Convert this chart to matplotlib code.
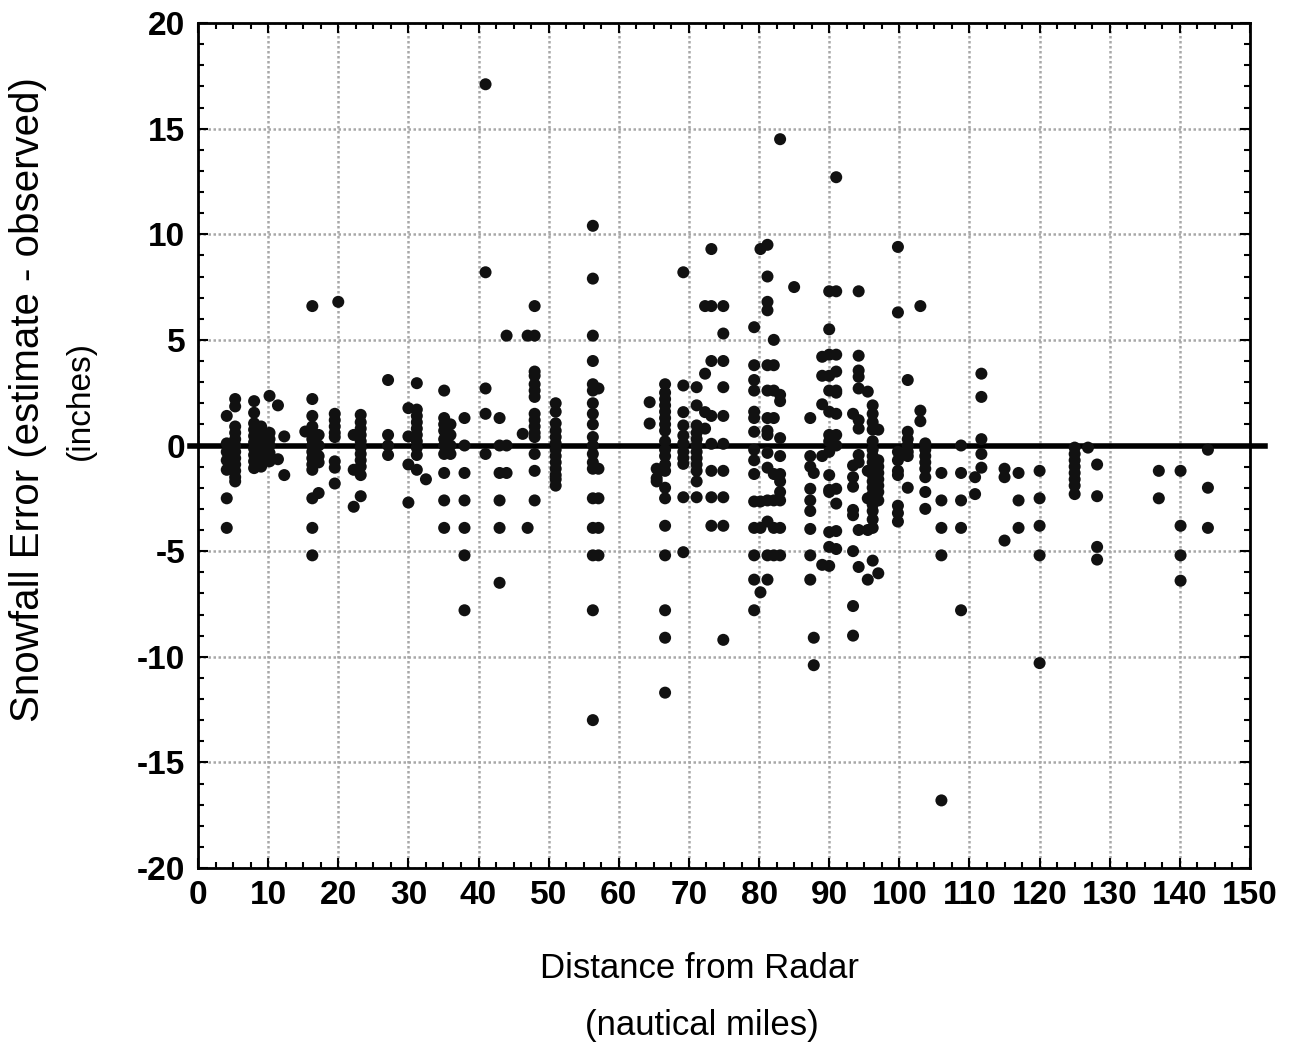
import matplotlib
matplotlib.use("Agg")
import matplotlib.pyplot as plt
from matplotlib.ticker import MultipleLocator

plt.rcParams['font.family'] = ['Liberation Sans', 'DejaVu Sans']
plt.rcParams['axes.unicode_minus'] = False

# ---- data: (distance column, list of snowfall errors) ----
col_dist = [4.1, 5.3, 8.0, 9.0, 10.2, 11.4, 12.3, 15.3, 16.3, 17.2, 19.5, 20.0,
            22.2, 23.2, 27.1, 30.0, 31.2, 32.5, 35.1, 36.0, 38.0, 41.0, 43.0,
            44.0, 46.3, 47.0, 48.0, 51.0, 56.3, 57.1, 64.4, 65.4, 66.6, 69.2,
            71.1, 72.3, 73.2, 74.9, 79.3, 80.2, 81.2, 82.1, 83.0, 85.0, 87.3,
            87.8, 89.0, 90.0, 91.0, 93.4, 94.2, 95.5, 96.2, 97.0, 99.8, 101.2,
            103.0, 103.7, 106.0, 108.8, 110.8, 111.7, 115.0, 117.0, 120.0,
            125.0, 126.9, 128.2, 137.0, 140.1, 144.0]

col_err = [
    [1.4, 0.1, -0.3, -0.7, -1.15, -2.5, -3.9],
    [2.2, 1.85, 0.9, 0.6, 0.3, 0.0, -0.3, -0.6, -0.9, -1.2, -1.5, -1.7],
    [2.1, 1.55, 1.05, 0.75, 0.45, 0.15, -0.15, -0.45, -0.75, -1.07],
    [0.9, 0.5, 0.1, -0.3, -0.7, -1.0],
    [2.35, 0.6, 0.3, 0.0, -0.35, -0.75],
    [1.9, -0.65],
    [0.43, -1.4],
    [0.66],
    [6.6, 2.2, 1.4, 0.9, 0.6, 0.3, 0.0, -0.3, -0.6, -0.9, -1.15, -2.5, -3.9, -5.2],
    [0.5, 0.0, -0.5, -0.8, -2.25],
    [1.5, 1.2, 0.9, 0.6, 0.4, -0.75, -1.05, -1.8],
    [6.8],
    [0.5, -1.15, -2.9],
    [1.45, 1.1, 0.8, 0.5, 0.2, -0.1, -0.4, -0.7, -1.0, -1.4, -2.4],
    [3.1, 0.5, 0.0, -0.45],
    [1.77, 0.43, -0.9, -2.7],
    [2.95, 1.7, 1.4, 1.1, 0.8, 0.5, 0.2, -0.1, -0.45, -1.15],
    [-1.6],
    [2.6, 1.3, 1.0, 0.7, 0.3, 0.0, -0.4, -1.3, -2.6, -3.9],
    [1.0, 0.5, 0.0, -0.4],
    [1.3, 0.0, -1.3, -2.6, -3.9, -5.2, -7.8],
    [17.1, 8.2, 2.7, 1.5, -0.4],
    [1.3, 0.0, -1.3, -2.6, -3.9, -6.5],
    [5.2, 0.0, -1.3],
    [0.55],
    [5.2, -3.9],
    [6.6, 5.2, 3.5, 3.3, 2.9, 2.6, 2.3, 1.5, 1.2, 0.9, 0.6, 0.4, -0.4, -1.2, -2.6],
    [2.0, 1.6, 1.05, 0.7, 0.4, 0.1, -0.2, -0.5, -0.8, -1.1, -1.4, -1.6, -1.9],
    [10.4, 7.9, 5.2, 4.0, 2.9, 2.6, 2.0, 1.5, 1.0, 0.4, 0.0, -0.4, -0.8, -1.1,
     -2.5, -3.9, -5.2, -7.8, -13.0],
    [2.7, -1.1, -2.5, -3.9, -5.2],
    [2.05, 1.04],
    [-1.1, -1.55, -1.7],
    [2.9, 2.5, 2.2, 1.9, 1.6, 1.3, 1.0, 0.7, 0.2, -0.2, -0.5, -0.9, -1.2, -2.0,
     -2.5, -3.8, -5.2, -7.8, -9.1, -11.7],
    [8.2, 2.84, 1.58, 0.95, 0.47, 0.1, -0.3, -0.6, -0.87, -2.45, -5.05],
    [2.76, 1.9, 0.95, 0.6, 0.3, 0.0, -0.3, -0.6, -0.9, -1.2, -1.7, -2.45],
    [6.6, 3.4, 1.58, 0.8],
    [9.3, 6.6, 4.0, 1.4, 0.08, -1.2, -2.45, -3.8],
    [6.6, 5.3, 4.0, 2.76, 1.4, 0.08, -1.2, -2.45, -3.8, -9.2],
    [5.6, 3.8, 3.1, 2.6, 1.6, 1.3, 0.65, -0.2, -0.7, -1.35, -2.65, -3.9, -5.2,
     -6.35, -7.8],
    [9.3, -2.65, -3.9, -6.95],
    [9.5, 8.0, 6.8, 6.4, 3.8, 2.6, 1.3, 0.7, 0.5, -0.35, -1.05, -2.6, -3.6,
     -5.2, -6.35],
    [5.0, 3.8, 2.6, 1.3, -1.35, -2.6, -3.9, -5.2],
    [14.5, 2.4, 2.1, 0.35, -0.5, -1.35, -1.7, -2.2, -2.6, -3.9, -5.2],
    [7.5],
    [1.3, -0.5, -1.0, -2.05, -2.6, -3.1, -3.95, -5.2, -6.35],
    [-1.3, -9.1, -10.4],
    [4.2, 3.3, 1.95, -0.5, -5.65],
    [7.3, 5.5, 4.3, 3.3, 2.6, 1.6, 0.5, 0.2, -0.3, -1.4, -2.1, -2.2, -4.1,
     -4.8, -5.7],
    [12.7, 7.3, 4.3, 3.5, 2.6, 2.5, 1.5, 0.5, 0.0, -2.05, -2.75, -4.05, -4.9],
    [1.5, -0.95, -1.5, -1.95, -3.05, -3.3, -5.0, -7.6, -9.0],
    [7.3, 4.25, 3.55, 3.25, 2.7, 1.2, 0.8, -0.45, -0.8, -4.0, -5.75],
    [2.55, -1.2, -2.5, -4.0, -6.35],
    [1.9, 1.5, 1.1, 0.75, 0.2, -0.2, -0.5, -0.8, -1.1, -1.4, -1.7, -2.0, -2.3,
     -2.6, -2.8, -3.1, -3.5, -3.9, -5.45],
    [0.75, -0.7, -1.0, -1.3, -1.6, -1.9, -2.2, -2.6, -6.05],
    [9.4, 6.3, -0.3, -0.7, -1.2, -1.4, -2.85, -3.2, -3.6],
    [3.1, 0.65, 0.3, 0.0, -0.3, -0.5, -2.0],
    [6.6, 1.65, 1.15],
    [0.1, -0.2, -0.5, -0.8, -1.1, -1.5, -2.2, -3.0],
    [-1.3, -2.6, -3.9, -5.2, -16.8],
    [0.0, -1.3, -2.6, -3.9, -7.8],
    [-1.5, -2.3],
    [3.4, 2.3, 0.3, -0.4, -1.05],
    [-1.1, -1.5, -4.5],
    [-1.3, -2.6, -3.9],
    [-1.2, -2.5, -3.8, -5.2, -10.3],
    [-0.1, -0.4, -0.7, -1.0, -1.3, -1.6, -1.9, -2.3],
    [-0.1],
    [-0.9, -2.4, -4.8, -5.4],
    [-1.2, -2.5],
    [-1.2, -3.8, -5.2, -6.4],
    [-0.2, -2.0, -3.9],
]

x_ticks = list(range(0, 151, 10))
y_ticks = list(range(-20, 21, 5))

distance = []
error = []
for d, vals in zip(col_dist, col_err):
    for v in vals:
        distance.append(d)
        error.append(v)

W, H = 1295, 1049
fig = plt.figure(figsize=(W / 100, H / 100), dpi=100)
ax = fig.add_axes([198 / W, 1 - 868 / H, (1250 - 198) / W, (868 - 23) / H])

ax.set_xlim(0, 150)
ax.set_ylim(-20, 20)
ax.set_xticks(x_ticks)
ax.set_yticks(y_ticks)
ax.xaxis.set_minor_locator(MultipleLocator(2.5))
ax.yaxis.set_minor_locator(MultipleLocator(1))
ax.grid(True, which='major', color='#a8a8a8', linestyle=(0, (1, 1)), linewidth=1.8, zorder=0)
ax.set_axisbelow(True)

ax.tick_params(which='both', direction='in', top=True, right=True, width=1.5,
               labelsize=24, pad=9)
ax.tick_params(which='major', length=7)
ax.tick_params(which='minor', length=4)
for lab in ax.get_xticklabels() + ax.get_yticklabels():
    lab.set_fontweight('bold')
for s in ax.spines.values():
    s.set_linewidth(2)

# zero reference line extends slightly beyond the frame
ax.plot([-1.2, 152.2], [0, 0], color='black', linewidth=4, clip_on=False, zorder=3)

ax.scatter(distance, error, s=75, color='#111111', edgecolors='none', zorder=4)

fig.text(28 / W, 1 - 400 / H, 'Snowfall Error (estimate - observed)', rotation=90,
         ha='center', va='center', fontsize=29)
fig.text(80 / W, 1 - 400 / H, '(inches)', rotation=90, ha='center', va='center', fontsize=24)
fig.text(700 / W, 1 - 968 / H, 'Distance from Radar', ha='center', va='center', fontsize=25)
fig.text(702 / W, 1 - 1025 / H, '(nautical miles)', ha='center', va='center', fontsize=25)

fig.savefig('out.png', dpi=100)
